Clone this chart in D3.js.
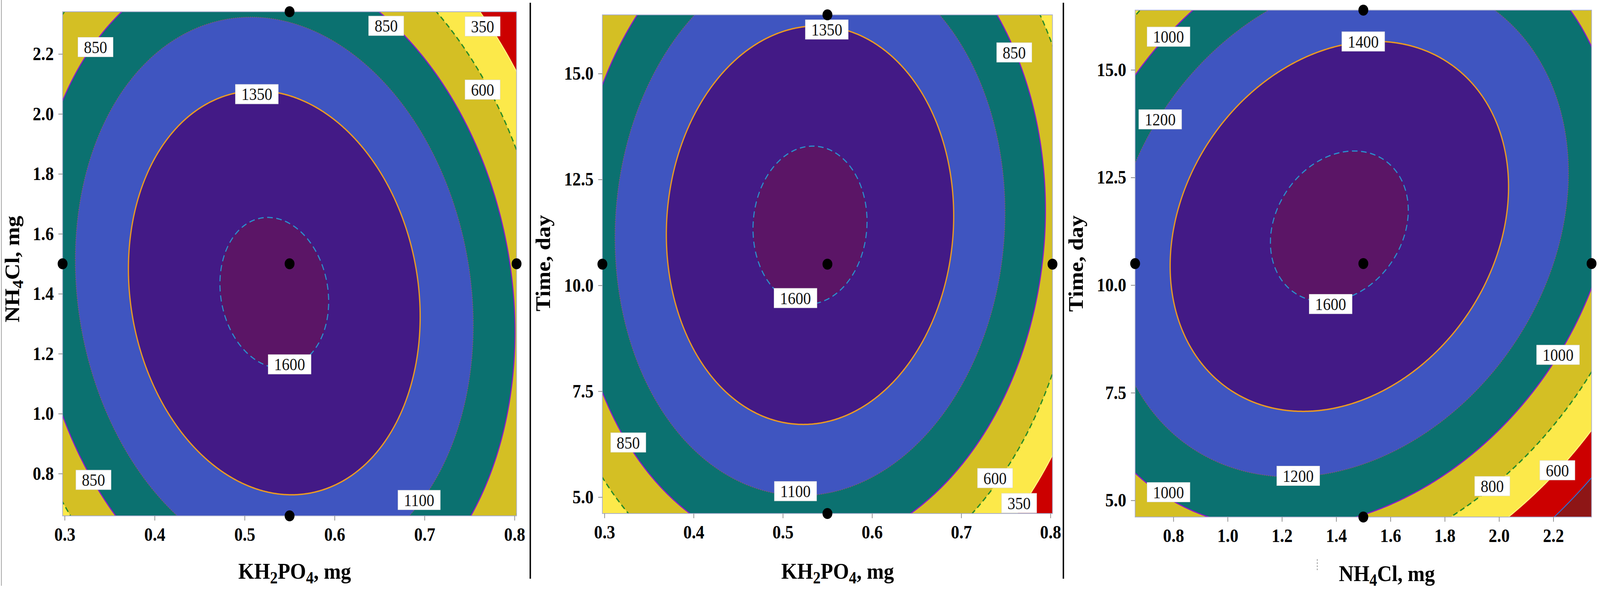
<!DOCTYPE html>
<html><head><meta charset="utf-8">
<script src="https://cdn.jsdelivr.net/npm/d3@7"></script>
<style>
html,body{margin:0;padding:0;background:#fff;overflow:hidden}
svg{display:block;width:100vw;height:100vh;font-family:"Liberation Serif","DejaVu Serif",serif}
</style></head>
<body>
<svg id="chart" viewBox="0 0 4550 1516" preserveAspectRatio="none"></svg>
<script>
// ---------------- data ----------------
const khDomain = [0.2977, 0.8023];   // KH2PO4, mg (axial limits of the design)
const nDomain  = [0.659, 2.341];     // NH4Cl, mg
const tDomain  = [4.613, 16.387];    // Time, day
const khTicks = [0.3, 0.4, 0.5, 0.6, 0.7, 0.8];
const nTicks  = [0.8, 1.0, 1.2, 1.4, 1.6, 1.8, 2.0, 2.2];
const tTicks  = [5, 7.5, 10, 12.5, 15];
const levelsA = [100, 350, 600, 850, 1100, 1350, 1600];
const levelsB = [400, 600, 800, 1000, 1200, 1400, 1600];
const bandColors = ["#8e1616", "#cc0000", "#fce94a", "#d4bf24", "#0b7170", "#3f55c0", "#431a86", "#5b1566"];

// response-surface slices (coded units):
// [b0, bX, bY, bXX, bYY, bXY]
const p1Coef = [1630.0, -66.3, -68.0, -252.0, -162.0, -47.6];  // KH2PO4 x NH4Cl (Time = 10.5)
const p2Coef = [1630.3, -72.2,  89.1, -257.9, -164.6,  19.3];  // KH2PO4 x Time (NH4Cl = 1.5)
const p3Coef = [1621.5, -74.5,  94.8, -161.6, -166.7,  70.2];  // NH4Cl x Time (KH2PO4 = 0.55)

// contour label anchors: [level, x, y]
const p1Labels = [[850,0.3343,2.223],[850,0.6574,2.294],[350,0.7645,2.292],[600,0.7645,2.081],[1350,0.5136,2.066],[1600,0.55,1.1645],[850,0.332,0.779],[1100,0.694,0.712]];
const p2Labels = [[1350,0.5493,16.04],[850,0.7594,15.50],[1600,0.5142,9.70],[850,0.3267,6.29],[1100,0.5142,5.14],[600,0.7379,5.45],[350,0.7649,4.86]];
const p3Labels = [[1000,0.782,15.77],[1400,1.4997,15.66],[1200,0.7514,13.85],[1600,1.3795,9.56],[1000,2.2175,8.38],[1200,1.26,5.57],[800,1.975,5.33],[600,2.215,5.70],[1000,0.782,5.19]];

// design points (center + axial)
const p1Design = [[0.55,1.5],[0.2977,1.5],[0.8023,1.5],[0.55,0.659],[0.55,2.341]];
const p2Design = [[0.55,10.5],[0.2977,10.5],[0.8023,10.5],[0.55,4.613],[0.55,16.387]];
const p3Design = [[1.5,10.5],[0.659,10.5],[2.341,10.5],[1.5,4.613],[1.5,16.387]];

// ---------------- drawing ----------------
const model = (b,u,v)=> b[0]+b[1]*u+b[2]*v+b[3]*u*u+b[4]*v*v+b[5]*u*v;

const lineStyles = [
  {c:"#2f6fd6", w:2.5, d:null},
  {c:"#fff37a", w:3, d:null},
  {c:"#278a27", w:3.5, d:"14,9"},
  {c:"#8a1ac8", w:3, d:null},
  {c:"#8e5a68", w:2, d:"3,3"},
  {c:"#eb9a22", w:3.5, d:null},
  {c:"#2a90cc", w:3, d:"16,10"}
];

const svg = d3.select("#chart");
svg.append("rect").attr("width",4550).attr("height",1516).attr("fill","#fff");

function richText(sel, parts){
  parts.forEach(([t,s],i)=>{
    const ts = sel.append("tspan").text(t);
    if(s) ts.attr("font-size","75%").attr("dy",12);
    else if(i>0 && parts[i-1][1]) ts.attr("dy",-12);
  });
}

function drawPanel(cfg, id){
  const x = d3.scaleLinear().domain(cfg.xDomain).range([cfg.left, cfg.left+cfg.width]);
  const y = d3.scaleLinear().domain(cfg.yDomain).range([cfg.top+cfg.height, cfg.top]);
  const coef = cfg.coef;
  const n=400, pad=6, N=n+2*pad, cw=cfg.width/n, ch=cfg.height/n;
  const vals = new Float64Array(N*N);
  for(let j=0;j<N;j++){
    const v=(y.invert(cfg.top+(j-pad+0.5)*ch)-cfg.yc)/cfg.ys;
    for(let i=0;i<N;i++){
      const u=(x.invert(cfg.left+(i-pad+0.5)*cw)-cfg.xc)/cfg.xs;
      vals[j*N+i]=model(coef,u,v);
    }
  }
  const contours = d3.contours().size([N,N]).thresholds(cfg.levels)(vals);
  const proj = d3.geoTransform({point(px,py){ this.stream.point(cfg.left+(px-pad)*cw, cfg.top+(py-pad)*ch); }});
  const path = d3.geoPath(proj);
  svg.append("clipPath").attr("id","clip"+id).append("rect")
    .attr("x",cfg.left).attr("y",cfg.top).attr("width",cfg.width).attr("height",cfg.height);
  const g = svg.append("g").attr("clip-path","url(#clip"+id+")");
  g.append("rect").attr("x",cfg.left).attr("y",cfg.top).attr("width",cfg.width).attr("height",cfg.height).attr("fill",bandColors[0]);
  g.selectAll("path.band").data(contours).join("path").attr("class","band")
    .attr("d",path).attr("fill",(d,i)=>bandColors[i+1]);
  g.selectAll("path.cl").data(contours).join("path").attr("class","cl")
    .attr("d",path).attr("fill","none")
    .attr("stroke",(d,i)=>lineStyles[i].c).attr("stroke-width",(d,i)=>lineStyles[i].w)
    .attr("stroke-dasharray",(d,i)=>lineStyles[i].d);
  svg.append("rect").attr("x",cfg.left).attr("y",cfg.top).attr("width",cfg.width).attr("height",cfg.height)
    .attr("fill","none").attr("stroke","#a9aecd").attr("stroke-width",2);

  // axes
  const fmt = d3.format(".1f");
  const ax = svg.append("g").attr("transform",`translate(0,${cfg.top+cfg.height})`)
    .call(d3.axisBottom(x).tickValues(cfg.xTicks).tickFormat(fmt).tickSize(12).tickPadding(18));
  const ay = svg.append("g").attr("transform",`translate(${cfg.left},0)`)
    .call(d3.axisLeft(y).tickValues(cfg.yTicks).tickFormat(fmt).tickSize(12).tickPadding(13));
  [ax,ay].forEach(a=>{
    a.attr("font-family",'"Liberation Serif",serif');
    a.select(".domain").remove();
    a.selectAll(".tick line").attr("stroke","#8a8a8a").attr("stroke-width",2);
    a.selectAll(".tick text").attr("fill","#000").attr("font-size",48).attr("font-weight","bold");
  });

  // contour labels
  const lg = svg.append("g");
  cfg.labels.forEach(([lv,lx,ly])=>{
    const gg = lg.append("g").attr("transform",`translate(${x(lx)},${y(ly)})`);
    const r = gg.append("rect").attr("fill","#fff").attr("stroke","#d8d8d8").attr("stroke-width",1);
    const t = gg.append("text").attr("text-anchor","middle").attr("dy","0.35em")
      .attr("font-size",44).attr("fill","#111").text(lv);
    const w = t.node().getComputedTextLength()+34;
    r.attr("x",-w/2).attr("y",-25).attr("width",w).attr("height",50);
  });

  // design points
  svg.append("g").selectAll("circle").data(cfg.design).join("circle")
    .attr("cx",d=>x(d[0])).attr("cy",d=>y(d[1])).attr("r",14).attr("fill","#000");

  // titles
  const xt = svg.append("text").attr("x",cfg.xTitleX).attr("y",cfg.xTitleY).attr("text-anchor","middle")
    .attr("font-size",58).attr("font-weight","bold");
  richText(xt, cfg.xTitle);
  const yt = svg.append("text").attr("transform",`translate(${cfg.yTitleX},${cfg.yTitleY}) rotate(-90)`)
    .attr("text-anchor","middle").attr("font-size",58).attr("font-weight","bold");
  richText(yt, cfg.yTitle);
}

const khTitle = [["KH"],["2",1],["PO"],["4",1],[", mg"]];
const nTitle  = [["NH"],["4",1],["Cl, mg"]];
const tTitle  = [["Time, day"]];

drawPanel({left:178,top:30,width:1291,height:1291,xDomain:khDomain,yDomain:nDomain,coef:p1Coef,
  xc:0.55,xs:0.15,yc:1.5,ys:0.5,levels:levelsA,labels:p1Labels,design:p1Design,
  xTicks:khTicks,yTicks:nTicks,xTitle:khTitle,yTitle:nTitle,xTitleX:838,xTitleY:1482,yTitleX:54,yTitleY:689},"1");
drawPanel({left:1713,top:38,width:1280,height:1277,xDomain:khDomain,yDomain:tDomain,coef:p2Coef,
  xc:0.55,xs:0.15,yc:10.5,ys:3.5,levels:levelsA,labels:p2Labels,design:p2Design,
  xTicks:khTicks,yTicks:tTicks,xTitle:khTitle,yTitle:tTitle,xTitleX:2382,xTitleY:1482,yTitleX:1564,yTitleY:674},"2");
drawPanel({left:3228,top:26,width:1298,height:1298,xDomain:nDomain,yDomain:tDomain,coef:p3Coef,
  xc:1.5,xs:0.5,yc:10.5,ys:3.5,levels:levelsB,labels:p3Labels,design:p3Design,
  xTicks:nTicks,yTicks:tTicks,xTitle:nTitle,yTitle:tTitle,xTitleX:3944,xTitleY:1488,yTitleX:3079,yTitleY:675},"3");

// panel separators
svg.append("line").attr("x1",4).attr("x2",4).attr("y1",0).attr("y2",1500).attr("stroke","#999").attr("stroke-width",2);
[1508,3024].forEach(sx=>svg.append("line").attr("x1",sx).attr("x2",sx).attr("y1",7).attr("y2",1482)
  .attr("stroke","#000").attr("stroke-width",4));
svg.append("line").attr("x1",3746).attr("x2",3746).attr("y1",1432).attr("y2",1462)
  .attr("stroke","#888").attr("stroke-width",2).attr("stroke-dasharray","4,4");
</script>
</body></html>
